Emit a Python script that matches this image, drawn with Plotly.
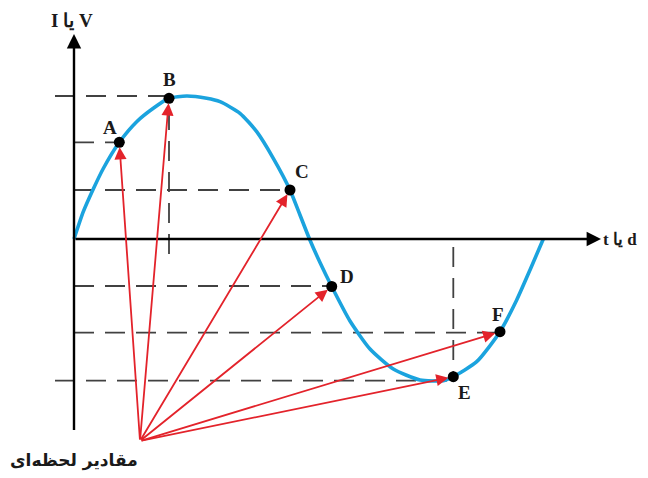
import plotly.graph_objects as go

# ---- data (t in arbitrary time units, v = instantaneous value) ----
curve_t = [0.0, 0.186, 0.386, 0.586, 0.906, 1.254, 1.586, 1.90, 2.254, 2.654, 2.92, 3.32,
           3.654, 3.986, 4.32, 4.52, 4.71, 4.92, 5.154, 5.52, 5.92, 6.386, 6.92, 7.386,
           7.586, 8.054, 8.52, 8.854, 9.12, 9.386]
curve_v = [0.0, 0.546, 1.0, 1.41, 1.934, 2.346, 2.614, 2.814, 2.86, 2.814, 2.746, 2.514,
           2.146, 1.614, 0.98, 0.48, 0.0, -0.47, -0.95, -1.64, -2.2, -2.6, -2.82, -2.834,
           -2.754, -2.454, -1.854, -1.22, -0.62, 0.0]

point_names = ["A", "B", "C", "D", "E", "F"]
point_t = [0.906, 1.90, 4.32, 5.154, 7.586, 8.52]
point_v = [1.934, 2.814, 0.98, -0.95, -2.754, -1.854]
guide_v = [1.934, 2.86, 0.98, -0.94, -2.834, -1.874]

source_t = 1.32
source_v = -4.04

y_label = "I یا V"
x_label = "t یا d"
bottom_label = "مقادیر لحظه\u200cای"

# ---- styles ----
CURVE = "#1ba3de"
RED = "#e3232b"
DASH = "#414141"
label_shift = {"A": (-9, 15), "B": (0, 19), "C": (12, 19), "D": (15, 10), "E": (11, -16), "F": (-2, 17)}
guide_start = {"A": 0, "B": -0.38, "C": 0, "D": 0, "E": -0.38, "F": 0}
vertical_guides = {"B": -0.30, "E": -0.16}

fig = go.Figure()

shapes = []
for n, t, v, gv in zip(point_names, point_t, point_v, guide_v):
    shapes.append(dict(type="line", xref="x", yref="y", x0=guide_start[n], x1=t, y0=gv, y1=gv,
                       line=dict(color=DASH, width=1.8, dash="20px,11px"), layer="below"))
    if n in vertical_guides:
        shapes.append(dict(type="line", xref="x", yref="y", x0=t, x1=t, y0=vertical_guides[n], y1=v,
                           line=dict(color=DASH, width=1.8, dash="20px,11px"), layer="below"))

fig.add_trace(go.Scatter(x=curve_t, y=curve_v, mode="lines",
                         line=dict(color=CURVE, width=3.6, shape="spline", smoothing=0.6),
                         hoverinfo="skip", showlegend=False))

fig.add_trace(go.Scatter(x=point_t, y=point_v, mode="markers",
                         marker=dict(color="black", size=11),
                         hoverinfo="skip", showlegend=False))

annotations = []
# axes
annotations.append(dict(x=10.54, y=0, ax=0, ay=0, xref="x", yref="y", axref="x", ayref="y",
                        text="", showarrow=True, arrowhead=2, arrowsize=1.2, arrowwidth=2.4,
                        arrowcolor="black"))
annotations.append(dict(x=0, y=4.1, ax=0, ay=-3.85, xref="x", yref="y", axref="x", ayref="y",
                        text="", showarrow=True, arrowhead=2, arrowsize=1.2, arrowwidth=2.4,
                        arrowcolor="black"))
# red arrows
for n, t, v in zip(point_names, point_t, point_v):
    annotations.append(dict(x=t, y=v, ax=source_t, ay=source_v, xref="x", yref="y",
                            axref="x", ayref="y", text="", showarrow=True, arrowhead=2,
                            arrowsize=1.35, arrowwidth=1.8, arrowcolor=RED, standoff=5))
# point labels
for n, t, v in zip(point_names, point_t, point_v):
    dx, dy = label_shift[n]
    annotations.append(dict(x=t, y=v, xref="x", yref="y", text="<b>%s</b>" % n, showarrow=False,
                            xshift=dx, yshift=dy,
                            font=dict(family="Liberation Serif", size=19, color="#1a1a1a")))
annotations.append(dict(x=-0.04, y=4.38, xref="x", yref="y", text="<b>%s</b>" % y_label,
                        showarrow=False, font=dict(family="Liberation Serif", size=19, color="#1a1a1a")))
annotations.append(dict(x=11.30, y=0, xref="x", yref="y", xanchor="right", text="<b>%s</b>" % x_label,
                        showarrow=False, font=dict(family="Liberation Serif", size=17, color="#1a1a1a")))
annotations.append(dict(x=0.0, y=-4.42, xref="x", yref="y", text="<b>%s</b>" % bottom_label,
                        showarrow=False, font=dict(family="DejaVu Sans", size=17, color="#1a1a1a")))

# page body has an 8px margin: the figure occupies window pixels 8..648 x 8..478
fig.update_layout(
    width=640, height=470,
    margin=dict(l=0, r=0, t=0, b=0),
    paper_bgcolor="white", plot_bgcolor="white",
    xaxis=dict(range=[-1.32, 11.48], visible=False, fixedrange=True),
    yaxis=dict(range=[-4.78, 4.62], visible=False, fixedrange=True),
    shapes=shapes, annotations=annotations, showlegend=False,
)

fig.write_html("out.html")
